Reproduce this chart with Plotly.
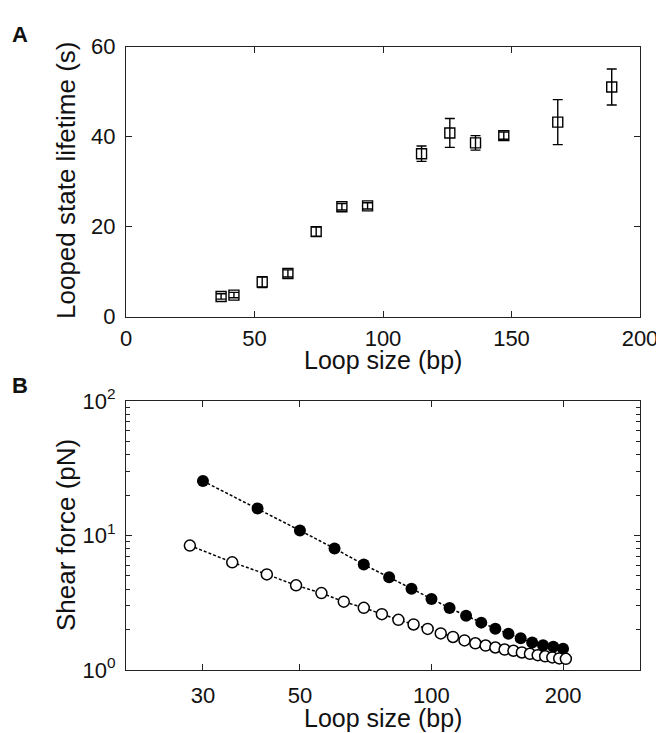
import plotly.graph_objects as go

# ---- Panel A data ----
loop_a = [37, 42, 53, 63, 74, 84, 94, 115, 126, 136, 147, 168, 189]
lifetime = [4.5, 4.8, 7.7, 9.6, 18.9, 24.4, 24.6, 36.2, 40.8, 38.6, 40.2, 43.2, 51.0]
lifetime_err = [0.6, 0.6, 1.2, 0.8, 1.0, 0.7, 0.7, 1.7, 3.2, 1.6, 0.8, 5.0, 4.0]

# ---- Panel B data ----
loop_filled = [30, 40, 50, 60, 70, 80, 90, 100, 110, 120, 130, 140, 150, 160, 170, 180, 190, 200]
force_filled = [25.4, 15.9, 10.9, 8.0, 6.08, 4.89, 4.02, 3.37, 2.89, 2.53, 2.25, 2.03, 1.86, 1.72, 1.60, 1.53, 1.49, 1.44]
loop_open = [28, 35, 42, 49, 56, 63, 70, 77, 84, 91, 98, 105, 112, 119, 126, 133, 140, 147, 154, 161, 168, 175, 182, 189, 196, 203]
force_open = [8.42, 6.32, 5.14, 4.26, 3.73, 3.22, 2.90, 2.60, 2.36, 2.18, 2.02, 1.87, 1.76, 1.66, 1.58, 1.52, 1.47, 1.42, 1.39, 1.35, 1.32, 1.29, 1.265, 1.24, 1.22, 1.21]

xticks_a = [0, 50, 100, 150, 200]
yticks_a = [0, 20, 40, 60]
xticks_b = [30, 50, 100, 200]
yticks_b = [1, 10, 100]
yticks_b_text = ["10<sup>0</sup>", "10<sup>1</sup>", "10<sup>2</sup>"]
yminor_b = [2, 3, 4, 5, 6, 7, 8, 9, 20, 30, 40, 50, 60, 70, 80, 90]

OFF = 8  # page body margin
W, H = 664 - OFF, 733 - OFF
def px(x):
    return (x - OFF) / W
def py(y):
    return 1 - (y - OFF) / H

FONT = "Liberation Sans, Arial, Helvetica, sans-serif"
AXC = "#222222"

fig = go.Figure()

fig.add_trace(go.Scatter(
    x=loop_a, y=lifetime, mode="markers",
    marker=dict(symbol="square-open", size=10, color="black", line=dict(width=1.4)),
    error_y=dict(type="data", array=lifetime_err, visible=True, color="black", thickness=1.4, width=5),
    xaxis="x", yaxis="y", showlegend=False))

fig.add_trace(go.Scatter(
    x=loop_filled, y=force_filled, mode="lines+markers",
    line=dict(color="black", width=1.5, dash="3px,2px"),
    marker=dict(symbol="circle", size=12, color="black"),
    xaxis="x2", yaxis="y2", showlegend=False))

fig.add_trace(go.Scatter(
    x=loop_open, y=force_open, mode="lines+markers",
    line=dict(color="black", width=1.5, dash="3px,2px"),
    marker=dict(symbol="circle", size=11, color="white", line=dict(color="black", width=1.5)),
    xaxis="x2", yaxis="y2", showlegend=False))

common = dict(showline=True, linecolor=AXC, linewidth=1.3, mirror="allticks",
              ticks="inside", tickcolor=AXC, tickwidth=1.3, showgrid=False, zeroline=False,
              automargin=False,
              tickfont=dict(family=FONT, size=22, color="#111"))

xdom = [px(126), px(640)]
fig.update_layout(
    width=W, height=H,
    margin=dict(l=0, r=0, t=0, b=0, autoexpand=False),
    paper_bgcolor="white", plot_bgcolor="white",
    xaxis=dict(domain=xdom, range=[0, 200], tickvals=xticks_a, ticklen=6,
               anchor="y", ticklabelstandoff=2, **common),
    yaxis=dict(domain=[py(316.7), py(46.5)], range=[0, 60], tickvals=yticks_a, ticklen=6,
               anchor="x", ticklabelstandoff=5, **common),
    xaxis2=dict(domain=xdom, type="log", range=[1.30103, 2.4771], tickvals=xticks_b,
                ticktext=[str(v) for v in xticks_b], ticklen=6, anchor="y2",
                ticklabelstandoff=5, **common),
    yaxis2=dict(domain=[py(670), py(401)], type="log", range=[0, 2], tickvals=yticks_b,
                ticktext=yticks_b_text, ticklen=6, anchor="x2", ticklabelstandoff=5,
                minor=dict(tickvals=yminor_b, ticks="inside", ticklen=3.5, tickcolor=AXC, tickwidth=1.2),
                **common),
)

ann = []
def add_text(text, x, y, size, angle=0, bold=False):
    ann.append(dict(text=("<b>%s</b>" % text) if bold else text, x=px(x), y=py(y),
                    xref="paper", yref="paper", showarrow=False, textangle=angle,
                    xanchor="center", yanchor="middle",
                    font=dict(family=FONT, size=size, color="#111")))

add_text("A", 20, 34, 22, bold=True)
add_text("B", 20, 385, 22, bold=True)
add_text("Loop size (bp)", 383, 360, 25)
add_text("Loop size (bp)", 383, 718, 25)
add_text("Looped state lifetime (s)", 66, 181, 26, angle=-90)
add_text("Shear force (pN)", 66, 535, 26, angle=-90)
fig.update_layout(annotations=ann)

fig.write_html("out.html")
